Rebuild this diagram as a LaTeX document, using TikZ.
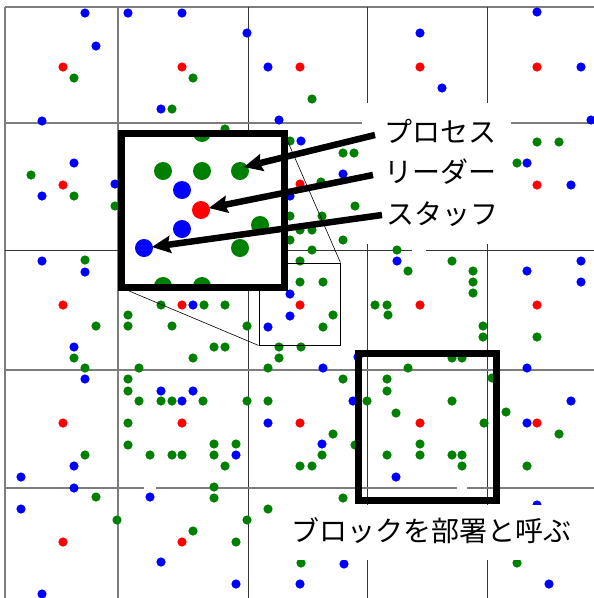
\documentclass[tikz,border=0pt]{standalone}
\usepackage{fontspec}
\newfontfamily\jp{Noto Sans CJK JP}
\usetikzlibrary{arrows.meta}
\definecolor{gd}{RGB}{0,128,0}
\definecolor{bd}{RGB}{0,0,255}
\definecolor{rd}{RGB}{255,0,0}
\definecolor{gridA}{RGB}{125,125,125}
\definecolor{gridB}{RGB}{55,55,55}
\begin{document}
\begin{tikzpicture}[x=1pt,y=-1pt,
  gl/.style={draw=gridA,line width=1.6pt},
  gk/.style={draw=gridB,line width=1pt},
  bigdot/.style={circle,inner sep=0pt,minimum size=18pt},
  thickbox/.style={draw=black,line width=7pt,inner sep=0pt},
  lab/.style={font=\jp\fontsize{28}{32}\selectfont,inner sep=0pt,anchor=west},
  arr/.style={line width=6.5pt,-{Stealth[length=19pt,width=18pt,inset=3pt,line width=0pt]}},
  zl/.style={draw=black,line width=0.6pt}]
\fill[white] (0,0) rectangle (594,598);
\useasboundingbox (0,0) rectangle (594,598);
% grid
\draw[gl] (5,7) -- (594,7);
\draw[gl] (5,7) -- (5,598);
\draw[gl] (118,7) -- (118,598);
\draw[gk] (248,7) -- (248,598);
\draw[gk] (367,7) -- (367,598);
\draw[gk] (487,7) -- (487,598);
\draw[gl] (5,123) -- (594,123);
\draw[gk] (5,250) -- (412,250) (426,250) -- (594,250);
\draw[gl] (5,370) -- (594,370);
\draw[gl] (5,488) -- (144,488) (156,488) -- (457,488) (467,488) -- (594,488);
% small dots
\foreach \x/\y in {74/78,193/78,312/99,172/109,225/129,290/141,537/142,559/142,343/153,354/153,517/163,31/175,321/182,74/196,115/206,355/206,290/216,322/216,300/230,312/230,290/240,343/240,312/250,397/250,85/260,300/261,452/261,408/271,473/271,300/282,323/282,473/282,473/293,161/305,204/305,225/305,375/305,387/305,128/315,333/315,388/315,96/326,128/326,172/326,247/326,323/327,483/326,483/337,537/337,214/347,225/347,279/347,301/347,74/358,193/358,279/358,452/358,462/358,85/368,139/368,268/368,408/368,128/379,343/379,387/379,492/378,128/391,387/391,139/401,161/401,172/401,203/401,247/401,268/401,367/401,452/401,396/413,506/412,128/423,484/423,333/434,559/434,128/445,214/444,236/444,355/445,420/444,85/455,150/455,172/455,182/455,214/455,322/455,387/455,420/455,452/455,462/455,225/466,300/466,312/466,462/466,527/466,214/487,96/497,214/498,343/498,268/509,117/520,247/520,193/531,236/542,301/563,517/563}
  \fill[gd] (\x,\y) circle (4.6pt);
\foreach \x/\y in {85/13,128/13,182/13,537/12,247/33,420/33,96/46,268/67,581/67,442/88,161/109,42/121,279/120,591/120,301/141,74/163,527/163,343/174,571/185,115/184,42/196,290/196,42/261,397/261,581/261,85/272,527/271,581/282,290/294,193/305,290/316,268/327,74/347,358/357,323/368,527/368,85/379,161/391,193/391,182/401,353/401,571/401,268/423,527/423,322/444,236/455,74/466,21/477,396/477,74/488,150/497,537/505,21/509,161/562,344/564,236/584,300/584,549/584,42/594}
  \fill[bd] (\x,\y) circle (4.6pt);
\foreach \x/\y in {63/67,182/67,300/67,420/67,537/67,63/185,300/184,420/185,537/185,63/305,182/305,300/305,420/305,537/305,63/423,182/423,300/423,420/423,537/423,63/542,182/542,300/542,420/542,537/542}
  \fill[rd] (\x,\y) circle (4.6pt);
% small box and zoom lines
\node[draw=black,line width=0.9pt,inner sep=0pt,minimum width=81pt,minimum height=82pt] (sbox) at (299.5,304) {};
\node[fill=white,inner sep=0pt,minimum width=162.5pt,minimum height=154pt] (inset) at (202.75,210.5) {};
\draw[zl] (sbox.north east) -- (inset.north east);
\draw[zl] (sbox.south west) -- (inset.south west);
% inset content
\begin{scope}
\clip (inset.north west) rectangle (inset.south east);
\node[bigdot,fill=gd] (g1) at (163,171) {};
\node[bigdot,fill=gd] (g2) at (202,171) {};
\node[bigdot,fill=gd] (g3) at (240,171) {};
\node[bigdot,fill=gd] (g4) at (260,225) {};
\node[bigdot,fill=gd] (g5) at (240,248) {};
\node[bigdot,fill=gd] (g6) at (163,286) {};
\node[bigdot,fill=gd] (g7) at (202,286) {};
\node[bigdot,fill=gd] (g8) at (202,133) {};
\node[bigdot,fill=bd] (b1) at (182,190) {};
\node[bigdot,fill=bd] (b2) at (182,229) {};
\node[bigdot,fill=bd] (b3) at (144,248) {};
\node[bigdot,fill=rd] (r1) at (201,210) {};
\end{scope}
\draw[line width=7pt] (inset.north west) rectangle (inset.south east);
% block box
\node[thickbox,minimum width=138pt,minimum height=147pt] (block) at (427.5,427) {};
% label backgrounds
\fill[white] (362,103) rectangle (511,244);
\fill[white] (287,505) rectangle (594,560);
% labels
\node[lab] (lp) at (384,131) {プロセス};
\node[lab] (ll) at (384,172) {リーダー};
\node[lab] (ls) at (386,214) {スタッフ};
\node[lab] (lb) at (291,531) {ブロックを部署と呼ぶ};
% arrows
\coordinate (s1) at (375,135);
\coordinate (s2) at (373,175);
\coordinate (s3) at (382,215);
\coordinate (t1) at (244,167);
\coordinate (t2) at (209,208);
\coordinate (t3) at (152,247);
\draw[arr] (s1) -- (t1);
\draw[arr] (s2) -- (t2);
\draw[arr] (s3) -- (t3);
\end{tikzpicture}
\end{document}
